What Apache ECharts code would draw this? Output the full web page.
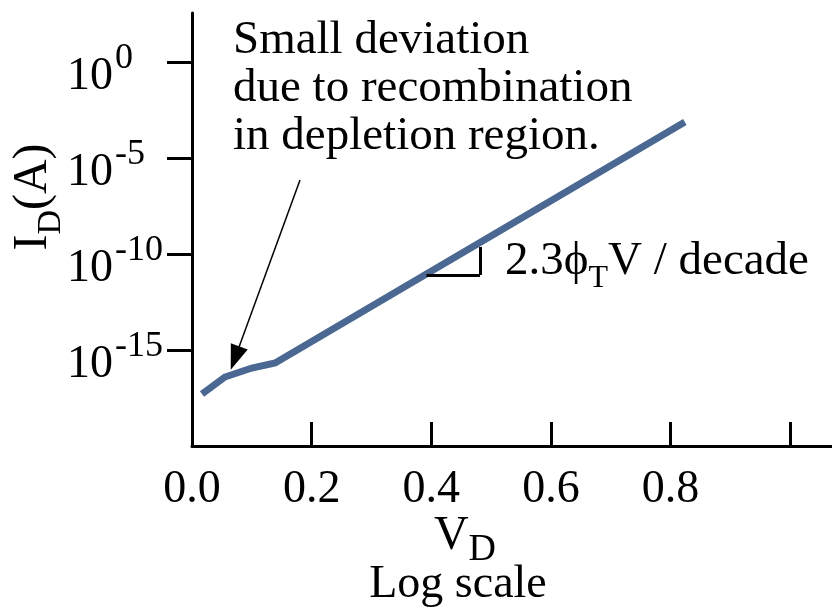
<!DOCTYPE html>
<html>
<head>
<meta charset="utf-8">
<script src="https://cdn.jsdelivr.net/npm/echarts@6/dist/echarts.min.js"></script>
<style>
  html, body { margin: 0; padding: 0; background: #fff; }
  #chart { width: 832px; height: 608px; }
</style>
</head>
<body>
<div id="chart"></div>
<script>
// diode current vs voltage
const vd = [0.0167, 0.055, 0.100, 0.139, 0.824]
const id = [5.1e-18, 3.9e-17, 1.15e-16, 2.1e-16, 7.5e-4]

const xTickValues = [0.2, 0.4, 0.6, 0.8, 1.0]
const xLabelValues = [0, 0.2, 0.4, 0.6, 0.8]
const yTickValues = [1, 1e-5, 1e-10, 1e-15]

// annotation anchors in data space
const slopeLeft = [0.392, 8.1e-12]
const slopeCorner = [0.4816, 8.1e-12]
const slopeTop = [0.4816, 2.3e-10]
const arrowFrom = [0.1806, 7.1e-7]
const arrowTo = [0.0719, 3.8e-16]

const FONT = 'serif'

const myChart = echarts.init(document.getElementById('chart'))

const serif = (size, extra) => Object.assign({ fontFamily: FONT, fontSize: size, lineHeight: size, color: '#000', fill: '#000' }, extra || {})

const option = {
  animation: false,
  backgroundColor: '#fff',
  textStyle: { fontFamily: FONT },
  grid: {
    left: 192,
    right: 0,
    top: 13,
    bottom: 162,
    outerBoundsMode: 'none'
  },
  xAxis: {
    type: 'value',
    min: 0,
    max: 1.07,
    axisLine: { show: true, lineStyle: { color: '#000', width: 3 } },
    axisTick: {
      show: true,
      inside: true,
      length: 24,
      customValues: xTickValues,
      lineStyle: { color: '#000', width: 3 }
    },
    axisLabel: {
      customValues: xLabelValues,
      margin: 21,
      color: '#000',
      fontFamily: FONT,
      fontSize: 46,
      formatter: (v) => v.toFixed(1)
    },
    splitLine: { show: false }
  },
  yAxis: {
    type: 'log',
    min: 1e-20,
    max: 355,
    axisLine: { show: true, lineStyle: { color: '#000', width: 3 } },
    axisTick: {
      show: true,
      length: 25,
      customValues: yTickValues,
      lineStyle: { color: '#000', width: 3 }
    },
    axisLabel: {
      customValues: yTickValues,
      margin: 125,
      align: 'left',
      color: '#000',
      fontFamily: FONT,
      formatter: (v) => '{b|10}{s|' + Math.round(Math.log10(v)) + '}',
      rich: {
        b: serif(46, { padding: [30, 0, 0, 0] }),
        s: serif(36, { padding: [17, 0, 23, 2] })
      }
    },
    splitLine: { show: false }
  },
  series: [
    {
      type: 'line',
      data: vd.map((v, i) => [v, id[i]]),
      symbol: 'none',
      lineStyle: { color: '#4a6892', width: 7, cap: 'butt', join: 'miter' },
      markLine: {
        silent: true,
        symbol: ['none', 'none'],
        label: { show: false },
        lineStyle: { color: '#000', width: 3, type: 'solid' },
        data: [
          [{ coord: slopeLeft }, { coord: slopeCorner }],
          [{ coord: slopeCorner }, { coord: slopeTop }],
          [
            { coord: arrowFrom, symbol: 'none', lineStyle: { width: 1.5 } },
            { coord: arrowTo, symbol: 'triangle', symbolSize: [18, 25] },
          ]
        ]
      }
    }
  ],
  graphic: [
    {
      type: 'text',
      x: 233,
      y: 17,
      style: {
        text: 'Small deviation\ndue to recombination\nin depletion region.',
        fontFamily: FONT,
        fontSize: 47,
        lineHeight: 48,
        fill: '#000',
        align: 'left',
        verticalAlign: 'top'
      }
    },
    {
      type: 'text',
      x: 505,
      y: 268,
      style: {
        text: '{m|2.3ϕ}{t|T}{m|V / decade}',
        align: 'left',
        verticalAlign: 'middle',
        rich: {
          m: serif(47, { padding: [0, 0, 13, 0] }),
          t: serif(32, { padding: [25, 0, 3, 0] })
        }
      }
    },
    {
      type: 'text',
      x: 49,
      y: 197,
      rotation: Math.PI / 2,
      style: {
        text: '{m|I}{d|D}{m|(A)}',
        align: 'center',
        verticalAlign: 'middle',
        rich: {
          m: serif(48, { padding: [0, 0, 32, 0] }),
          d: serif(34, { padding: [25, 0, 21, 0] })
        }
      }
    },
    {
      type: 'text',
      x: 465,
      y: 542,
      style: {
        text: '{v|V}{d|D}',
        align: 'center',
        verticalAlign: 'middle',
        rich: {
          v: serif(48, { padding: [0, 0, 12, 0] }),
          d: serif(38, { padding: [19, 0, 3, 0] })
        }
      }
    },
    {
      type: 'text',
      x: 458,
      y: 585,
      style: {
        text: 'Log scale',
        fontFamily: FONT,
        fontSize: 46,
        fill: '#000',
        align: 'center',
        verticalAlign: 'middle'
      }
    }
  ]
}

myChart.setOption(option)
</script>
</body>
</html>
